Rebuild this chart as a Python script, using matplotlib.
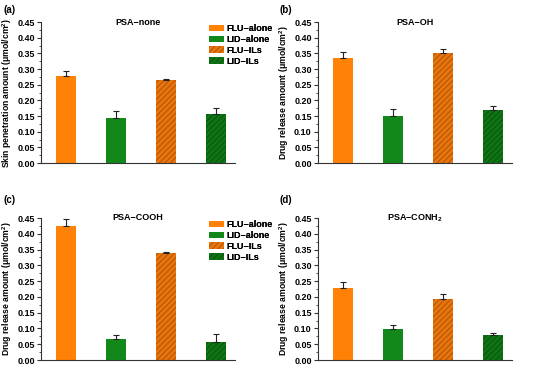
import matplotlib
matplotlib.use("Agg")
import matplotlib.pyplot as plt
from matplotlib.ticker import MultipleLocator

plt.rcParams['font.family'] = ['Liberation Sans', 'DejaVu Sans']
plt.rcParams['font.weight'] = 'bold'
plt.rcParams['hatch.linewidth'] = 0.6

series = ["FLU\u2212alone", "LID\u2212alone", "FLU\u2212ILs", "LID\u2212ILs"]
panels = ["(a)", "(b)", "(c)", "(d)"]
titles = ["PSA\u2212none", "PSA\u2212OH", "PSA\u2212COOH", "PSA\u2212CONH$_\\mathregular{2}$"]
ylabels = ["Skin penetration amount (\u03bcmol/cm$^\\mathregular{2}$)",
           "Drug release amount (\u03bcmol/cm$^\\mathregular{2}$)",
           "Drug release amount (\u03bcmol/cm$^\\mathregular{2}$)",
           "Drug release amount (\u03bcmol/cm$^\\mathregular{2}$)"]
values_none = [0.279, 0.143, 0.265, 0.155]
errors_none = [0.015, 0.022, 0.002, 0.019]
values_oh = [0.335, 0.149, 0.351, 0.170]
errors_oh = [0.019, 0.022, 0.013, 0.012]
values_cooh = [0.425, 0.066, 0.338, 0.058]
errors_cooh = [0.021, 0.012, 0.003, 0.024]
values_conh2 = [0.228, 0.099, 0.193, 0.078]
errors_conh2 = [0.020, 0.012, 0.015, 0.007]

all_values = [values_none, values_oh, values_cooh, values_conh2]
all_errors = [errors_none, errors_oh, errors_cooh, errors_conh2]

facecolors = ["#FF8106", "#12881A", "#E8740E", "#0E7414"]
edgecolors = ["#FF8106", "#12881A", "#A85000", "#0A4F0E"]
hatches = [None, None, "//////", "//////"]

W, H = 550, 369
fig = plt.figure(figsize=(W / 100, H / 100), dpi=100)

# axes rectangles in pixels: left, top, right, bottom
rects = [(41, 22, 235, 163), (318, 22, 512, 163), (41, 218, 235, 360), (318, 218, 512, 360)]
label_pos = [(4, 10), (280, 10), (4, 200), (280, 200)]

for i in range(4):
    l, t, r, b = rects[i]
    ax = fig.add_axes([l / W, 1 - b / H, (r - l) / W, (b - t) / H])
    xs = [1, 2, 3, 4]
    for j in range(4):
        ax.bar(xs[j], all_values[i][j], width=0.4, color=facecolors[j],
               edgecolor=edgecolors[j], linewidth=0, hatch=hatches[j],
               label=series[j], zorder=2)
        ax.errorbar(xs[j], all_values[i][j], yerr=[[0], [all_errors[i][j]]],
                    fmt='none', ecolor='#222222', elinewidth=0.8, capsize=2.2,
                    capthick=0.8, zorder=3)
    ax.set_xlim(0.5, 0.5 + (r - l) / 50.0)
    ax.set_ylim(0, 0.45)
    ax.yaxis.set_major_locator(MultipleLocator(0.05))
    ax.yaxis.set_minor_locator(MultipleLocator(0.025))
    ax.yaxis.set_major_formatter(plt.FormatStrFormatter('%.2f'))
    ax.set_xticks([])
    for s in ['top', 'right']:
        ax.spines[s].set_visible(False)
    ax.spines['left'].set_linewidth(0.8)
    ax.spines['bottom'].set_linewidth(0.8)
    ax.spines['left'].set_color('#333333')
    ax.spines['bottom'].set_color('#333333')
    ax.tick_params(axis='y', which='major', direction='out', length=3, width=0.8,
                   labelsize=6.5, pad=1.5, color='#333333')
    ax.tick_params(axis='y', which='minor', direction='out', length=1.8, width=0.6,
                   color='#333333')
    for lab in ax.get_yticklabels():
        lab.set_fontweight('bold')
    ax.set_ylabel(ylabels[i], fontsize=6.2, fontweight='bold', labelpad=2.5)
    ax.text(0.5, 1.0, titles[i], transform=ax.transAxes, ha='center', va='center',
            fontsize=6.5, fontweight='bold')
    leg = ax.legend(loc='upper left', bbox_to_anchor=((207 - l) / (r - l) - 0.01, 1.01),
                    frameon=False, fontsize=6.5, handlelength=1.7, handleheight=0.7,
                    handletextpad=0.3, labelspacing=0.2, borderaxespad=0)
    for txt in leg.get_texts():
        txt.set_fontweight('bold')
    fig.text(label_pos[i][0] / W, 1 - label_pos[i][1] / H, panels[i],
             fontsize=7, fontweight='bold', ha='left', va='center')

fig.savefig("out.png", dpi=100)
